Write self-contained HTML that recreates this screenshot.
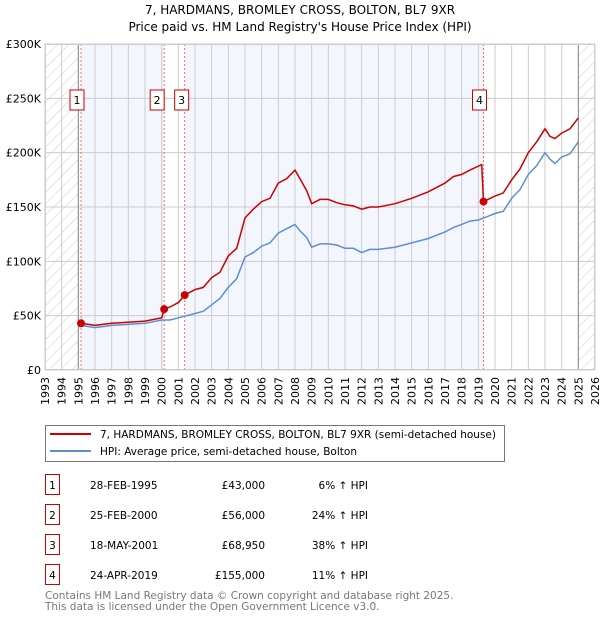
<!DOCTYPE html>
<html><head><meta charset="utf-8"><style>
body{margin:0;background:#fff;font-family:"DejaVu Sans","Liberation Sans",sans-serif;}
svg text{font-family:"DejaVu Sans","Liberation Sans",sans-serif;}
</style></head><body>
<svg id="c" width="600" height="620" xmlns="http://www.w3.org/2000/svg">
<defs><pattern id="hatch" width="8" height="8" patternUnits="userSpaceOnUse" patternTransform="rotate(45)"><line x1="0" y1="0" x2="0" y2="8" stroke="#ccc" stroke-width="1"/></pattern></defs>
<text x="300" y="14" text-anchor="middle" font-size="12">7, HARDMANS, BROMLEY CROSS, BOLTON, BL7 9XR</text>
<text x="300" y="31" text-anchor="middle" font-size="12">Price paid vs. HM Land Registry's House Price Index (HPI)</text>
<g id="plot"></g>
<g>
<rect x="45.5" y="425.5" width="459" height="36" fill="#fff" stroke="#777"/>
<line x1="50" y1="434" x2="91" y2="434" stroke="#cc0000" stroke-width="2"/>
<text x="100" y="438" font-size="10.5">7, HARDMANS, BROMLEY CROSS, BOLTON, BL7 9XR (semi-detached house)</text>
<line x1="50" y1="451" x2="91" y2="451" stroke="#5b8fd4" stroke-width="2"/>
<text x="100" y="455" font-size="10.5">HPI: Average price, semi-detached house, Bolton</text>
</g>
<g id="table" font-size="10.5"></g>
<text x="45" y="599" font-size="10.5" fill="#777">Contains HM Land Registry data © Crown copyright and database right 2025.</text>
<text x="45" y="610" font-size="10.5" fill="#777">This data is licensed under the Open Government Licence v3.0.</text>
</svg>
<script>
const hpiYears=[1995.16,1996,1997,1998,1999,2000,2000.5,2001,2001.5,2002,2002.5,2003,2003.5,2004,2004.5,2005,2005.5,2006,2006.5,2007,2007.5,2008,2008.3,2008.7,2009,2009.5,2010,2010.5,2011,2011.5,2012,2012.5,2013,2014,2015,2016,2017,2017.5,2018,2018.5,2019,2019.5,2020,2020.5,2021,2021.5,2022,2022.5,2023,2023.3,2023.6,2024,2024.5,2025];
const hpiValues=[41000,39000,41000,42000,43000,46000,46000,48000,50000,52000,54000,60000,66000,76000,84000,104000,108000,114000,117000,126000,130000,134000,128000,122000,113000,116000,116000,115000,112000,112000,108000,111000,111000,113000,117000,121000,127000,131000,134000,137000,138000,141000,144000,146000,158000,166000,180000,188000,200000,194000,190000,196000,199000,210000];
const propYears=[1995.16,1996,1997,1998,1999,2000,2000.15,2000.5,2001,2001.38,2002,2002.5,2003,2003.5,2004,2004.5,2005,2005.5,2006,2006.5,2007,2007.5,2008,2008.3,2008.7,2009,2009.5,2010,2010.5,2011,2011.5,2012,2012.5,2013,2014,2015,2016,2017,2017.5,2018,2018.5,2019.2,2019.31,2020,2020.5,2021,2021.5,2022,2022.5,2023,2023.3,2023.6,2024,2024.5,2025];
const propValues=[43000,41000,43000,44000,45000,48000,56000,58000,62000,68950,74000,76000,85000,90000,105000,112000,140000,148000,155000,158000,172000,176000,184000,176000,165000,153000,157000,157000,154000,152000,151000,148000,150000,150000,153000,158000,164000,172000,178000,180000,184000,189000,155000,160000,163000,175000,185000,200000,210000,222000,215000,213000,218000,222000,232000];
const saleYears=[1995.16,2000.15,2001.38,2019.31];
const salePrices=[43000,56000,68950,155000];
const saleLabels=["1","2","3","4"];
const saleDates=["28-FEB-1995","25-FEB-2000","18-MAY-2001","24-APR-2019"];
const salePriceText=["£43,000","£56,000","£68,950","£155,000"];
const saleHpiText=["6% ↑ HPI","24% ↑ HPI","38% ↑ HPI","11% ↑ HPI"];
const yTicks=[0,50000,100000,150000,200000,250000,300000];
const yTickLabels=["£0","£50K","£100K","£150K","£200K","£250K","£300K"];
const xStart=1993,xEnd=2026;
const L=45,R=595,T=44,B=370;
const xs=y=>L+(y-xStart)*(R-L)/(xEnd-xStart);
const ys=v=>B-v*(B-T)/300000;
const NS="http://www.w3.org/2000/svg";
const plot=document.getElementById('plot');
function mk(tag,attrs,parent){const e=document.createElementNS(NS,tag);for(const k in attrs)e.setAttribute(k,attrs[k]);(parent||plot).appendChild(e);return e;}
// background
let e=mk('rect',{x:L,y:T,width:R-L,height:B-T,fill:'#fff'});


e=mk('rect',{x:xs(saleYears[0]),y:T,width:xs(saleYears[1])-xs(saleYears[0]),height:B-T,fill:'#f3f6fd'});


e=mk('rect',{x:xs(saleYears[2]),y:T,width:xs(saleYears[3])-xs(saleYears[2]),height:B-T,fill:'#f3f6fd'});


e=mk('rect',{x:L,y:T,width:xs(1995)-L,height:B-T,fill:'url(#hatch)'});


e=mk('rect',{x:xs(2025),y:T,width:R-xs(2025),height:B-T,fill:'url(#hatch)'});


for(let yr=xStart;yr<=xEnd;yr++){
 e=mk('line',{x1:xs(yr),x2:xs(yr),y1:T,y2:B,stroke:'#ccc','stroke-width':1});
 
 
 e=mk('text',{x:0,y:0,'font-size':11,'text-anchor':'end',transform:`translate(${xs(yr)+4},${B+7}) rotate(-90)`});
 e.textContent=yr;
 
 
}
yTicks.forEach((v,i)=>{
 e=mk('line',{x1:L,x2:R,y1:ys(v),y2:ys(v),stroke:'#ccc','stroke-width':1});
 
 
 e=mk('text',{x:L-4,y:ys(v)+4,'font-size':11,'text-anchor':'end'});
 e.textContent=yTickLabels[i];
 
 
});
e=mk('line',{x1:xs(1995),x2:xs(1995),y1:T,y2:B,stroke:'#888','stroke-width':1});


e=mk('line',{x1:xs(2025),x2:xs(2025),y1:T,y2:B,stroke:'#888','stroke-width':1});


saleYears.forEach((yr,i)=>{
 e=mk('line',{x1:xs(yr),x2:xs(yr),y1:T,y2:B,stroke:'#ff6666','stroke-width':1,'stroke-dasharray':'2,2'});
 
 
});
e=mk('path',{d:hpiYears.map((y,i)=>(i?'L':'M')+xs(y).toFixed(1)+','+ys(hpiValues[i]).toFixed(1)).join(''),fill:'none',stroke:'#5b8fd4','stroke-width':1.5});


e=mk('path',{d:propYears.map((y,i)=>(i?'L':'M')+xs(y).toFixed(1)+','+ys(propValues[i]).toFixed(1)).join(''),fill:'none',stroke:'#cc0000','stroke-width':1.5});


saleYears.forEach((yr,i)=>{
 e=mk('circle',{cx:xs(yr),cy:ys(salePrices[i]),r:4,fill:'#cc0000'});
 
 
 const bx=xs(yr)-(i===0||i===3?8:-1)-7;
 const g=mk('g',{});
 
 
 const cx= i===1? xs(yr)-7 : i===2? xs(yr)-3 : xs(yr)-4;
 mk('rect',{x:cx-7,y:90,width:14,height:20,fill:'#fff',stroke:'#cc0000'},g);
 const t=mk('text',{x:cx,y:104,'font-size':11,'text-anchor':'middle'},g);
 t.textContent=saleLabels[i];
});
e=mk('rect',{x:L+.5,y:T+.5,width:R-L-1,height:B-T-1,fill:'none',stroke:'#ccc'});


const tb=document.getElementById('table');
const rowY=[486,516,546,576];
saleLabels.forEach((s,i)=>{
 const g=mk('g',{},tb);
 
 
 mk('rect',{x:45.5,y:rowY[i]-11.5,width:14,height:20,fill:'#fff',stroke:'#cc0000'},g);
 let t=mk('text',{x:52.5,y:rowY[i]+3,'text-anchor':'middle'},g);t.textContent=s;
 t=mk('text',{x:90,y:rowY[i]+3},g);t.textContent=saleDates[i];
 t=mk('text',{x:265,y:rowY[i]+3,'text-anchor':'end'},g);t.textContent=salePriceText[i];
 t=mk('text',{x:368,y:rowY[i]+3,'text-anchor':'end'},g);t.textContent=saleHpiText[i];
});
</script>
</body></html>
